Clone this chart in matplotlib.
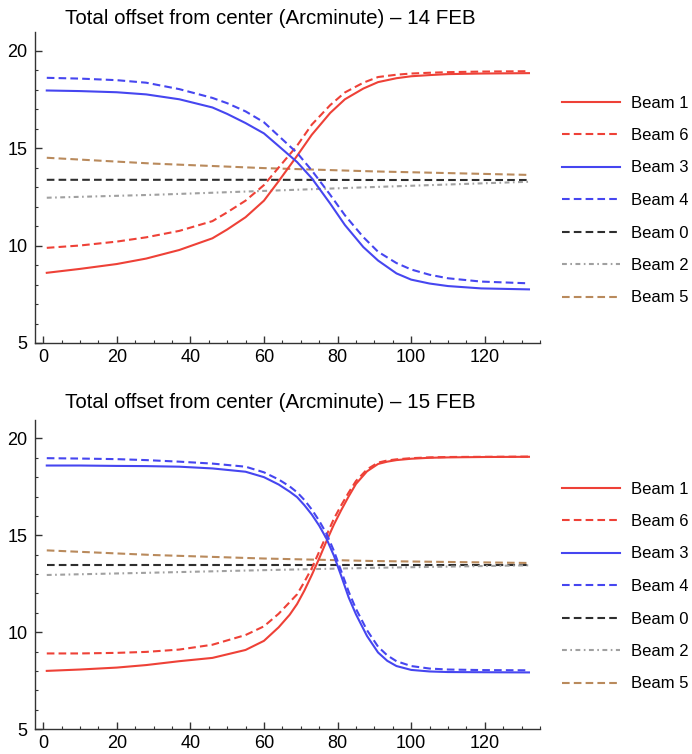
import matplotlib
matplotlib.use('Agg')
import matplotlib.pyplot as plt
from matplotlib.ticker import MultipleLocator

plt.rcParams['font.family'] = ['Liberation Sans', 'DejaVu Sans']
plt.rcParams['lines.scale_dashes'] = False

LABELS = ['Beam 1', 'Beam 6', 'Beam 3', 'Beam 4', 'Beam 0', 'Beam 2', 'Beam 5']
TITLES = ['Total offset from center (Arcminute) \u2013 14 FEB',
          'Total offset from center (Arcminute) \u2013 15 FEB']

# --- 14 FEB
x_top = [1, 10, 20, 28, 37, 46, 50, 55, 60, 64, 69, 73, 78, 82, 87, 91, 96, 100, 105, 110, 119, 132]
beam1_top = [8.6, 8.8, 9.05, 9.33, 9.77, 10.37, 10.82, 11.45, 12.3, 13.3, 14.6, 15.68, 16.8, 17.5, 18.05,
             18.38, 18.58, 18.68, 18.74, 18.79, 18.82, 18.84]
beam6_top = [9.88, 10.0, 10.2, 10.42, 10.75, 11.25, 11.7, 12.3, 13.1, 14.0, 15.12, 16.2, 17.2, 17.85, 18.35,
             18.64, 18.76, 18.82, 18.86, 18.89, 18.92, 18.94]
beam3_top = [17.95, 17.92, 17.86, 17.75, 17.5, 17.08, 16.75, 16.28, 15.75, 15.1, 14.28, 13.45, 12.15, 11.05,
             9.92, 9.23, 8.57, 8.25, 8.05, 7.92, 7.8, 7.75]
beam4_top = [18.6, 18.56, 18.48, 18.35, 18.02, 17.57, 17.3, 16.88, 16.32, 15.62, 14.75, 13.85, 12.6, 11.55,
             10.43, 9.68, 9.1, 8.77, 8.5, 8.32, 8.15, 8.06]
x_flat = [1, 30, 60, 90, 132]
beam0_top = [13.37, 13.37, 13.37, 13.36, 13.36]
beam2_top = [12.45, 12.6, 12.8, 13.0, 13.27]
beam5_top = [14.5, 14.2, 13.97, 13.8, 13.62]

# --- 15 FEB
x_bot = [1, 10, 20, 28, 37, 46, 55, 60, 64, 67, 69, 71, 73, 75, 77, 79, 81, 83, 85, 88, 91, 93.5, 96, 100,
         105, 110, 120, 132]
beam1_bot = [8.0, 8.07, 8.17, 8.3, 8.5, 8.67, 9.08, 9.55, 10.25, 10.9, 11.45, 12.15, 12.95, 13.8, 14.7, 15.55,
             16.3, 17.0, 17.65, 18.3, 18.68, 18.8, 18.88, 18.95, 19.0, 19.02, 19.04, 19.05]
beam6_bot = [8.9, 8.9, 8.93, 8.98, 9.1, 9.35, 9.85, 10.3, 10.95, 11.55, 11.95, 12.6, 13.3, 14.15, 15.0, 15.85,
             16.55, 17.2, 17.8, 18.4, 18.75, 18.86, 18.92, 18.98, 19.02, 19.04, 19.05, 19.06]
beam3_bot = [18.6, 18.6, 18.58, 18.57, 18.54, 18.45, 18.28, 18.0, 17.62, 17.25, 16.97, 16.55, 16.07, 15.5,
             14.82, 13.95, 12.9, 11.8, 10.92, 9.8, 8.95, 8.52, 8.25, 8.05, 7.97, 7.94, 7.93, 7.92]
beam4_bot = [18.98, 18.96, 18.93, 18.88, 18.8, 18.7, 18.54, 18.25, 17.88, 17.52, 17.22, 16.82, 16.33, 15.75,
             15.08, 14.2, 13.15, 12.1, 11.2, 10.1, 9.25, 8.8, 8.5, 8.25, 8.12, 8.07, 8.04, 8.03]
beam0_bot = [13.48, 13.48, 13.48, 13.48, 13.48]
beam2_bot = [12.95, 13.07, 13.2, 13.32, 13.45]
beam5_bot = [14.22, 13.98, 13.8, 13.67, 13.57]

RED = '#ee4137'
BLUE = '#4646f0'
DARK = '#2e2e2e'
GREY = '#a0a0a0'
BROWN = '#b98a5c'
DASH = (0, (5.5, 3.0))
DASHDOT = (0, (3.5, 2.5, 1.2, 2.5))


def panel(ax, title, ty, xs, ys, legy):
  styles = [(RED, '-'), (RED, DASH), (BLUE, '-'), (BLUE, DASH), (DARK, DASH), (GREY, DASHDOT), (BROWN, DASH)]
  hs = []
  for (c, ls), x, y, lab in zip(styles, xs, ys, LABELS):
    h, = ax.plot(x, y, color=c, ls=ls, lw=1.5, label=lab)
    hs.append(h)
  # flat lines sit under the crossing curves
  for h in hs[4:]:
    h.set_zorder(1.5)

  ax.set_xlim(-2.2, 135)
  ax.set_ylim(5, 20.95)
  ax.xaxis.set_major_locator(MultipleLocator(20))
  ax.xaxis.set_minor_locator(MultipleLocator(5))
  ax.yaxis.set_major_locator(MultipleLocator(5))
  ax.yaxis.set_minor_locator(MultipleLocator(1))
  for s in ['top', 'right']:
    ax.spines[s].set_visible(False)
  for s in ['left', 'bottom']:
    ax.spines[s].set_color('#333333')
    ax.spines[s].set_linewidth(1.0)
  ax.tick_params(which='major', direction='in', length=5, width=1, color='#333333', labelsize=13)
  ax.tick_params(axis='x', which='major', pad=4.5)
  ax.tick_params(axis='y', which='major', pad=5.5)
  ax.tick_params(which='minor', direction='in', length=2.5, width=0.8, color='#333333')
  ax.patch.set_visible(False)

  fig.text(270 / 692, ty, title, ha='center', va='center', fontsize=14.8)
  fig.legend(handles=hs, loc='center left', bbox_to_anchor=(562 / 692, legy), frameon=False,
             fontsize=12, handlelength=3.5, handletextpad=0.65, labelspacing=1.05, borderpad=0,
             borderaxespad=0)


fig = plt.figure(figsize=(6.92, 7.54), dpi=100)
ax1 = fig.add_axes([35 / 692, 1 - 343 / 754, 505 / 692, 311 / 754])
ax2 = fig.add_axes([35 / 692, 1 - 729 / 754, 505 / 692, 309 / 754])

panel(ax1, TITLES[0], 1 - 18 / 754,
      [x_top, x_top, x_top, x_top, x_flat, x_flat, x_flat],
      [beam1_top, beam6_top, beam3_top, beam4_top, beam0_top, beam2_top, beam5_top],
      1 - 200.5 / 754)
panel(ax2, TITLES[1], 1 - 403 / 754,
      [x_bot, x_bot, x_bot, x_bot, x_flat, x_flat, x_flat],
      [beam1_bot, beam6_bot, beam3_bot, beam4_bot, beam0_bot, beam2_bot, beam5_bot],
      1 - 586.5 / 754)

fig.savefig('out.png', dpi=100)
